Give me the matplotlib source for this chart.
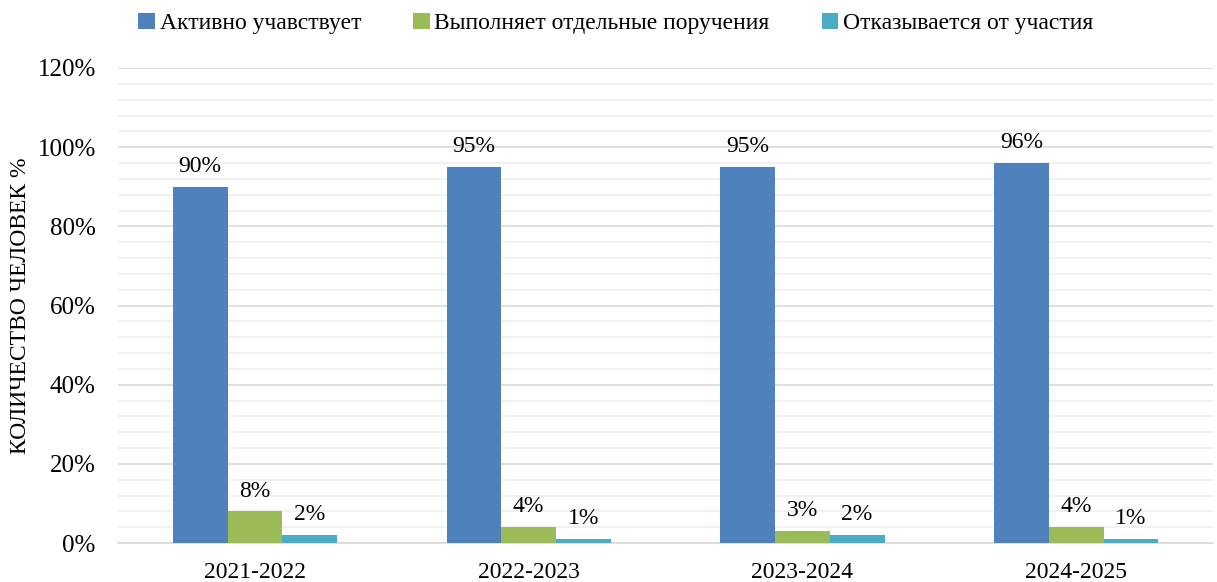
import numpy as np
import matplotlib.pyplot as plt
from matplotlib.ticker import MultipleLocator, PercentFormatter

plt.rcParams['font.family'] = ['Liberation Serif', 'DejaVu Serif']

years = ['2021-2022', '2022-2023', '2023-2024', '2024-2025']
active = [90, 95, 95, 96]
partial = [8, 4, 3, 4]
refuse = [2, 1, 2, 1]
series_names = ['Активно учавствует', 'Выполняет отдельные поручения', 'Отказывается от участия']
colors = ['#4F81BD', '#9BBB59', '#4BACC6']

fig = plt.figure(figsize=(12.17, 5.82), dpi=100)
ax = fig.add_axes([118 / 1217, 1 - 543 / 582, 1095 / 1217, 475 / 582])

x = np.arange(len(years))
w = 0.2
for i, (vals, name, c) in enumerate(zip([active, partial, refuse], series_names, colors)):
    bars = ax.bar(x + (i - 1) * w, vals, w, color=c, label=name, zorder=3)
    for b, v in zip(bars, vals):
        ax.annotate(f'{v}%', (b.get_x() + b.get_width() / 2, v),
                    xytext=(0, 7), textcoords='offset points',
                    ha='center', va='bottom', fontsize=17)

ax.set_xlim(-0.5, len(years) - 0.5)
ax.set_ylim(0, 120)
ax.yaxis.set_major_locator(MultipleLocator(20))
ax.yaxis.set_minor_locator(MultipleLocator(4))
ax.yaxis.set_major_formatter(PercentFormatter(decimals=0))
ax.grid(which='major', axis='y', color='#d9d9d9', linewidth=1.2, zorder=0)
ax.grid(which='minor', axis='y', color='#efefef', linewidth=1.2, zorder=0)
ax.set_xticks(x)
ax.set_xticklabels(years)
ax.tick_params(axis='both', which='both', length=0, labelsize=17)
ax.tick_params(axis='y', labelsize=18, pad=16)
ax.tick_params(axis='x', pad=14)
for s in ['top', 'right', 'left']:
    ax.spines[s].set_visible(False)
ax.spines['bottom'].set_color('#d9d9d9')
ax.spines['bottom'].set_linewidth(1.2)
ax.set_ylabel('КОЛИЧЕСТВО ЧЕЛОВЕК %', fontsize=17)
ax.yaxis.set_label_coords(-87 / 1095, 0.5)

fig.legend(loc='upper center', bbox_to_anchor=(0.506, 1.015), ncol=3, frameon=False,
           fontsize=17, handlelength=0.7, handleheight=0.7, handletextpad=0.2,
           columnspacing=2.2)

fig.savefig('out.png', dpi=100)
